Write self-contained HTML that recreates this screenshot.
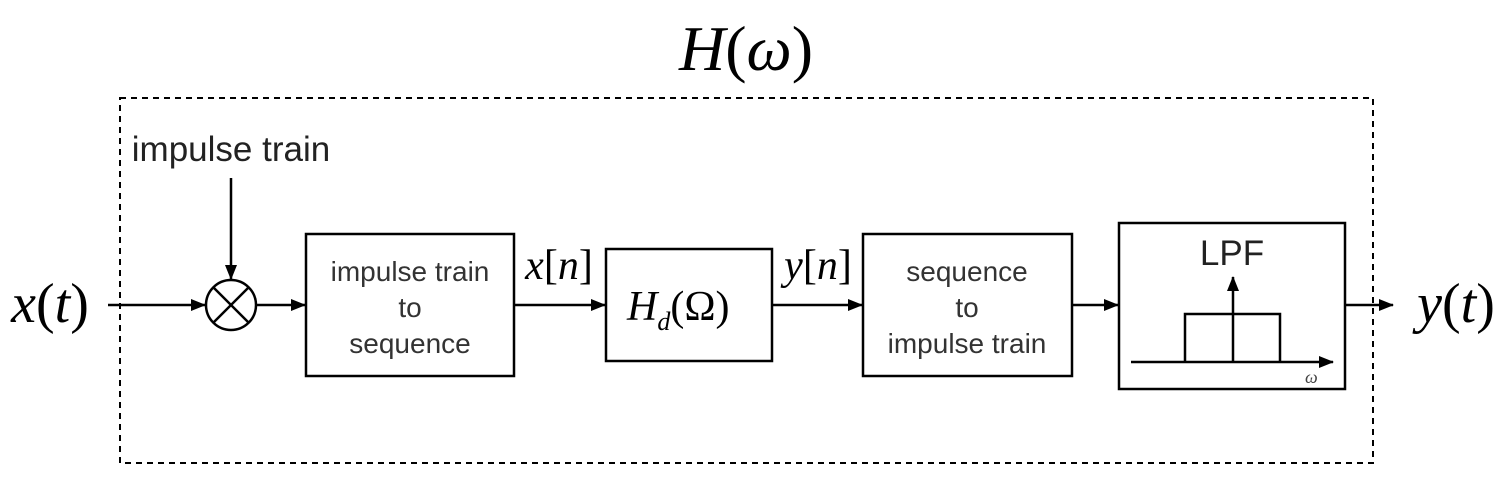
<!DOCTYPE html>
<html><head><meta charset="utf-8"><style>
html,body{margin:0;padding:0;background:#fff;width:1510px;height:496px;overflow:hidden}
</style></head><body>
<svg width="1510" height="496" viewBox="0 0 1510 496" xmlns="http://www.w3.org/2000/svg">
<defs>
<marker id="b" markerWidth="16" markerHeight="12" refX="14" refY="6" orient="auto" markerUnits="userSpaceOnUse"><path d="M0,0 L15,6 L0,12 z" fill="#000"/></marker></defs>
<rect x="120" y="98" width="1253" height="365" fill="none" stroke="#000" stroke-width="2" stroke-dasharray="6,5"/>
<text x="746" y="70" font-family="Liberation Serif" font-size="64" text-anchor="middle"><tspan font-style="italic">H</tspan>(<tspan font-style="italic">ω</tspan>)</text>
<text x="231" y="161" font-family="Liberation Sans" font-size="35" fill="#222" text-anchor="middle">impulse train</text>
<text x="50" y="322" font-family="Liberation Serif" font-size="56" text-anchor="middle"><tspan font-style="italic">x</tspan>(<tspan font-style="italic">t</tspan>)</text>
<text x="1456" y="322" font-family="Liberation Serif" font-size="56" text-anchor="middle"><tspan font-style="italic">y</tspan>(<tspan font-style="italic">t</tspan>)</text>
<g stroke="#000" stroke-width="2.5" fill="none">
<line x1="108" y1="305" x2="205" y2="305" marker-end="url(#b)"/>
<line x1="231" y1="178" x2="231" y2="279" marker-end="url(#b)"/>
<circle cx="231" cy="305" r="25"/>
<line x1="213" y1="287" x2="249" y2="323"/><line x1="249" y1="287" x2="213" y2="323"/>
<line x1="256" y1="305" x2="305" y2="305" marker-end="url(#b)"/>
<rect x="306" y="234" width="208" height="142"/>
<line x1="514" y1="305" x2="605" y2="305" marker-end="url(#b)"/>
<rect x="606" y="249" width="166" height="112"/>
<line x1="772" y1="305" x2="862" y2="305" marker-end="url(#b)"/>
<rect x="863" y="234" width="209" height="142"/>
<line x1="1072" y1="305" x2="1118" y2="305" marker-end="url(#b)"/>
<rect x="1119" y="223" width="226" height="166"/>
<line x1="1345" y1="305" x2="1393" y2="305" marker-end="url(#b)"/>
<polyline points="1185,362 1185,314 1280,314 1280,362"/>
<line x1="1131" y1="362" x2="1333" y2="362" marker-end="url(#b)"/>
<line x1="1233" y1="362" x2="1233" y2="277" marker-end="url(#b)"/>
</g>
<g font-family="Liberation Sans" font-size="28" fill="#333" text-anchor="middle">
<text x="410" y="281">impulse train</text><text x="410" y="317">to</text><text x="410" y="353">sequence</text>
<text x="967" y="281">sequence</text><text x="967" y="317">to</text><text x="967" y="353">impulse train</text>
<text x="1232" y="265" font-size="35" fill="#222">LPF</text>
</g>
<text x="1305" y="383" font-family="Liberation Serif" font-style="italic" font-size="18" fill="#444">ω</text>
<text x="559" y="279" font-family="Liberation Serif" font-style="italic" font-size="42" text-anchor="middle">x<tspan font-style="normal">[</tspan>n<tspan font-style="normal">]</tspan></text>
<text x="818" y="279" font-family="Liberation Serif" font-style="italic" font-size="42" text-anchor="middle">y<tspan font-style="normal">[</tspan>n<tspan font-style="normal">]</tspan></text>
<text x="627" y="320" font-family="Liberation Serif" font-style="italic" font-size="42">H<tspan font-size="26" dy="10">d</tspan><tspan font-style="normal" dy="-10">(Ω)</tspan></text>
</svg>
</body></html>
